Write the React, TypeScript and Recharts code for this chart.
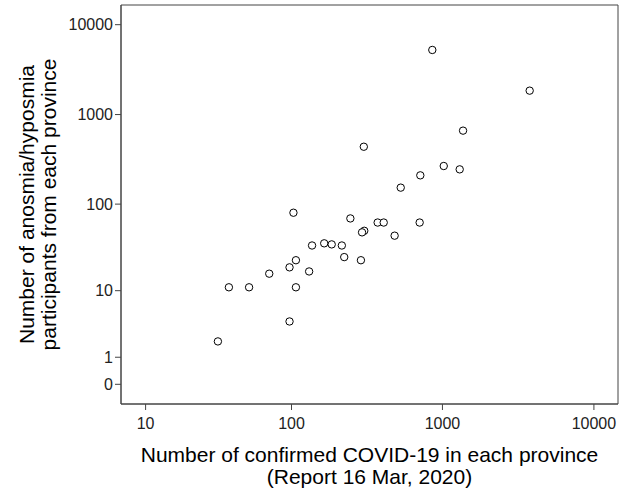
import { ScatterChart, Scatter, XAxis, YAxis, ReferenceArea, Label } from "recharts";

// confirmed cases per province (x) and anosmia/hyposmia participants (y)
const confirmed = [857, 3767, 1368, 302, 1020, 1300, 714, 530, 103, 246, 373, 409, 707, 304, 294, 483, 137, 165, 185, 216, 224, 289, 107, 97, 131, 71, 38, 52, 107, 97, 32];
const participants = [5234, 1845, 662, 438, 267, 245, 210, 153, 80, 69, 62, 62, 62, 50, 48, 44, 34, 36, 35, 34, 25, 23, 23, 19, 17, 16, 11, 11, 11, 4, 2];

const xTickValues = [10, 100, 1000, 10000];
const yTickValues = [0, 1, 10, 100, 1000, 10000];

// both axes use log10(v + 1), like the original SPSS plot
const toLog = (v: number) => Math.log10(v + 1);
const fromLog = (v: number) => Math.round(Math.pow(10, v) - 1);

const X_DOMAIN: [number, number] = [0.879, 4.159];
const Y_DOMAIN: [number, number] = [-0.219, 4.219];

const FONT = "'Liberation Sans', Arial, sans-serif";

export default function App() {
  const data = confirmed.map((c, i) => ({ lx: toLog(c), ly: toLog(participants[i]) }));

  return (
    <div style={{ position: "absolute", left: 0, top: 0, width: 626, height: 501, background: "#fff" }}>
      <ScatterChart width={626} height={501} margin={{ top: 5, right: 8, bottom: 57, left: 61 }}>
        <XAxis
          type="number"
          dataKey="lx"
          domain={X_DOMAIN}
          allowDataOverflow
          ticks={xTickValues.map(toLog)}
          tickFormatter={(v: number) => String(fromLog(v))}
          height={40}
          tickSize={6}
          tickMargin={8}
          stroke="#444"
          tick={{ fill: "#222", fontSize: 16, fontFamily: FONT }}
        >
          <Label
            content={({ viewBox }: any) => {
              const cx = viewBox.x + viewBox.width / 2;
              return (
                <g fontFamily={FONT} fontSize={21} fill="#000">
                  <text x={cx} y={viewBox.y + 58} textAnchor="middle">Number of confirmed COVID-19 in each province</text>
                  <text x={cx} y={viewBox.y + 80} textAnchor="middle">(Report 16 Mar, 2020)</text>
                </g>
              );
            }}
          />
        </XAxis>
        <YAxis
          type="number"
          dataKey="ly"
          domain={Y_DOMAIN}
          allowDataOverflow
          ticks={yTickValues.map(toLog)}
          tickFormatter={(v: number) => String(fromLog(v))}
          width={60}
          tickSize={6}
          tickMargin={2}
          stroke="#444"
          tick={{ fill: "#222", fontSize: 16, fontFamily: FONT }}
        >
          <Label
            content={({ viewBox }: any) => {
              const cy = viewBox.y + viewBox.height / 2;
              return (
                <g fontFamily={FONT} fontSize={21} fill="#000">
                  <text x={34} y={cy} textAnchor="middle" transform={`rotate(-90, 34, ${cy})`}>
                    Number of anosmia/hyposmia
                  </text>
                  <text x={56} y={cy} textAnchor="middle" transform={`rotate(-90, 56, ${cy})`}>
                    participants from each province
                  </text>
                </g>
              );
            }}
          />
        </YAxis>
        <ReferenceArea x1={X_DOMAIN[0]} x2={X_DOMAIN[1]} y1={Y_DOMAIN[0]} y2={Y_DOMAIN[1]} fill="none" stroke="#444" strokeOpacity={1} />
        <Scatter
          data={data}
          isAnimationActive={false}
          shape={(p: any) => <circle cx={p.cx} cy={p.cy} r={3.7} fill="#fff" stroke="#000" strokeWidth={1} />}
        />
      </ScatterChart>
    </div>
  );
}
